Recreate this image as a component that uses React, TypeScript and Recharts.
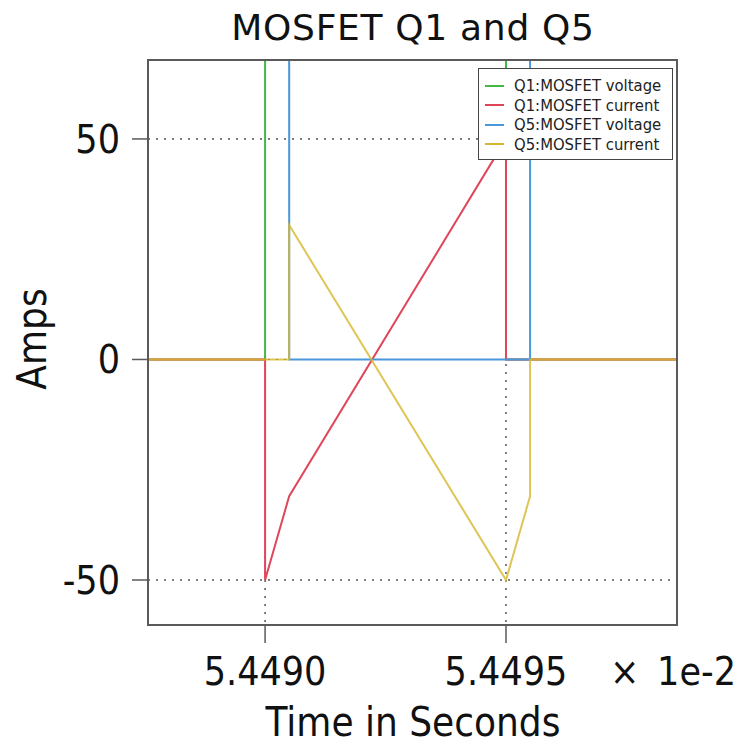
import React from "react";
import { LineChart, Line, XAxis, YAxis, CartesianGrid } from "recharts";

// time in units of 1e-2 s
const q1VoltageTime = [5.44875, 5.449, 5.449, 5.4495, 5.4495, 5.44986];
const q1VoltageAmps = [0, 0, 400, 400, 0, 0];

const q1CurrentTime = [5.44875, 5.449, 5.449, 5.44905, 5.4495, 5.4495, 5.44986];
const q1CurrentAmps = [0, 0, -50, -31, 50, 0, 0];

const q5VoltageTime = [5.44875, 5.44905, 5.44905, 5.44955, 5.44955, 5.44986];
const q5VoltageAmps = [400, 400, 0, 0, 400, 400];

const q5CurrentTime = [5.44875, 5.44905, 5.44905, 5.4495, 5.44955, 5.44955, 5.44986];
const q5CurrentAmps = [0, 0, 30.5, -50, -31, 0, 0];

const xTicks = [5.449, 5.4495];
const yTicks = [-50, 0, 50];

const zip = (t: number[], v: number[]) => t.map((x, i) => ({ t: x, v: v[i] }));

const series = [
  { name: "Q1:MOSFET voltage", color: "#44b944", opacity: 1, data: zip(q1VoltageTime, q1VoltageAmps) },
  { name: "Q1:MOSFET current", color: "#e0465a", opacity: 1, data: zip(q1CurrentTime, q1CurrentAmps) },
  { name: "Q5:MOSFET voltage", color: "#4a98dc", opacity: 1, data: zip(q5VoltageTime, q5VoltageAmps) },
  { name: "Q5:MOSFET current", color: "#d8b830", opacity: 0.82, data: zip(q5CurrentTime, q5CurrentAmps) },
];

const COND = "'DejaVu Sans Condensed', 'DejaVu Sans', sans-serif";
const SANS = "'DejaVu Sans', sans-serif";
const AXIS = "#5a5a5a";
const TEXT = "#111";
const xDomain = [5.448757, 5.449857];
const yDomain = [-60.2, 67.9];

const App: React.FC = () => {
  return (
    <div style={{ position: "absolute", left: 0, top: 0, width: 739, height: 744, background: "#fff" }}>
      <LineChart width={739} height={744} margin={{ top: 60, right: 61, bottom: 0, left: 0 }}>
        <CartesianGrid
          stroke="#000"
          strokeDasharray="2 6"
          horizontalValues={yTicks}
          verticalValues={xTicks}
        />
        <XAxis
          dataKey="t"
          type="number"
          domain={xDomain}
          allowDataOverflow
          ticks={xTicks}
          tickFormatter={(v: number) => v.toFixed(4)}
          height={119}
          tickSize={18}
          tickMargin={14}
          stroke={AXIS}
          strokeWidth={1.5}
          tick={{ fill: TEXT, fontSize: 39, fontFamily: COND }}
        />
        <YAxis
          type="number"
          domain={yDomain}
          allowDataOverflow
          ticks={yTicks}
          width={148}
          tickSize={16}
          tickMargin={12}
          stroke={AXIS}
          strokeWidth={1.5}
          tick={{ fill: TEXT, fontSize: 39, fontFamily: COND }}
        />
        {series.map((s) => (
          <Line
            key={s.name}
            data={s.data}
            dataKey="v"
            name={s.name}
            type="linear"
            stroke={s.color}
            strokeOpacity={s.opacity}
            strokeWidth={2}
            dot={false}
            activeDot={false}
            isAnimationActive={false}
          />
        ))}
      </LineChart>

      {/* plot frame */}
      <div
        style={{
          position: "absolute",
          left: 147,
          top: 59,
          width: 531,
          height: 567,
          border: `2px solid ${AXIS}`,
          boxSizing: "border-box",
          pointerEvents: "none",
        }}
      />

      <svg width={739} height={744} style={{ position: "absolute", left: 0, top: 0, pointerEvents: "none" }}>
        <text x={413} y={40} textAnchor="middle" fontFamily={SANS} fontSize={36} letterSpacing={0.7} fill={TEXT}>
          MOSFET Q1 and Q5
        </text>
        <text x={413} y={736} textAnchor="middle" fontFamily={COND} fontSize={40} fill={TEXT}>
          Time in Seconds
        </text>
        <text
          x={46}
          y={339}
          transform="rotate(-90 46 339)"
          textAnchor="middle"
          fontFamily={COND}
          fontSize={40}
          fill={TEXT}
        >
          Amps
        </text>
        <text x={610} y={685} fontFamily={COND} fontSize={39} fill={TEXT}>
          ×
        </text>
        <text x={736} y={685} textAnchor="end" fontFamily={COND} fontSize={39} fill={TEXT}>
          1e-2
        </text>
      </svg>

      <div
        style={{
          position: "absolute",
          left: 478,
          top: 68,
          width: 195,
          height: 92,
          border: "1px solid #444",
          background: "#fff",
          boxSizing: "border-box",
          padding: "7px 0 0 6px",
          fontFamily: COND,
        }}
      >
        {series.map((s) => (
          <div key={s.name} style={{ display: "flex", alignItems: "center", height: 19.5, fontSize: 16.5, color: "#222", whiteSpace: "nowrap" }}>
            <span style={{ display: "inline-block", width: 19, height: 2, background: s.color, marginRight: 10, flex: "none" }} />
            {s.name}
          </div>
        ))}
      </div>
    </div>
  );
};

export default App;
